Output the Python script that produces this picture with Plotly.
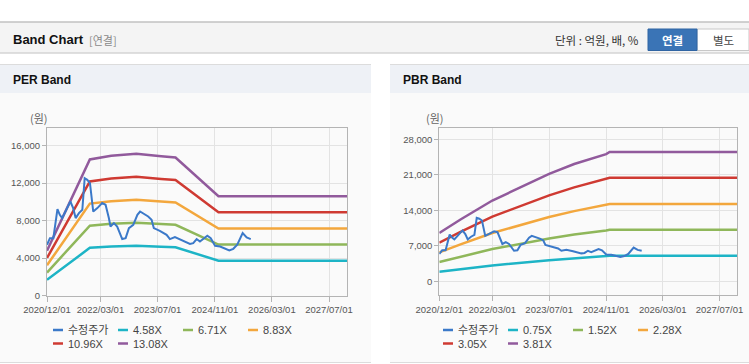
import plotly.graph_objects as go

W, H = 749, 364

# ---------------- data ----------------
price_dates = [
    "2020-12-01", "2020-12-26", "2021-01-24", "2021-02-28", "2021-03-20", "2021-04-09",
    "2021-06-18", "2021-07-12", "2021-08-02", "2021-08-30", "2021-09-28", "2021-10-18",
    "2021-11-09", "2021-12-02", "2021-12-30", "2022-02-03", "2022-03-16", "2022-04-14",
    "2022-05-12", "2022-05-26", "2022-06-24", "2022-07-22", "2022-09-03", "2022-10-02",
    "2022-10-30", "2022-12-06", "2023-01-10", "2023-02-02", "2023-04-12", "2023-05-11",
    "2023-05-30", "2023-07-20", "2023-09-16", "2023-10-14", "2023-11-26", "2024-01-22",
    "2024-04-02", "2024-04-30", "2024-05-29", "2024-06-26", "2024-07-24", "2024-08-28",
    "2024-09-26", "2024-11-02", "2024-12-15", "2025-01-18", "2025-03-03", "2025-04-06",
    "2025-05-10", "2025-06-25", "2025-07-29", "2025-09-02",
]
price_values = [
    5410, 6120, 6120, 9220, 8610, 8260,
    10030, 9320, 8260, 8790, 9140, 12520,
    12340, 11990, 8960, 9320, 9860, 9680,
    8260, 7360, 7720, 7360, 6020, 6120,
    7190, 7540, 8610, 8960, 8430, 8080,
    7190, 6900, 6470, 6020, 6230, 5940,
    5510, 5590, 6020, 5760, 6020, 6370,
    6120, 5300, 5230, 5060, 4800, 4980,
    5410, 6660, 6190, 6020,
]

# PER band: EPS, multiples from the legend
per_dates = ["2020-12-01", "2021-12-01", "2022-06-01", "2023-01-01", "2023-08-01",
             "2023-12-01", "2024-12-01", "2027-12-01"]
per_eps = [365, 1110, 1139, 1156, 1135, 1125, 810, 810]
per_multiples = [4.58, 6.71, 8.83, 10.96, 13.08]
per_labels = ["4.58X", "6.71X", "8.83X", "10.96X", "13.08X"]

# PBR band: BPS, multiples from the legend
pbr_dates = ["2020-12-01", "2021-06-01", "2022-03-01", "2023-07-01", "2024-02-01",
             "2024-11-01", "2024-12-01", "2027-12-01"]
pbr_bps = [2500, 3200, 4180, 5556, 6070, 6585, 6690, 6690]
pbr_multiples = [0.75, 1.52, 2.28, 3.05, 3.81]
pbr_labels = ["0.75X", "1.52X", "2.28X", "3.05X", "3.81X"]

price_label = "수정주가"

x_tick_vals = ["2020-12-01", "2022-03-01", "2023-07-01", "2024-11-01", "2026-03-01", "2027-07-01"]
x_tick_text = ["2020/12/01", "2022/03/01", "2023/07/01", "2024/11/01", "2026/03/01", "2027/07/01"]
per_y_ticks = [0, 4000, 8000, 12000, 16000]
pbr_y_ticks = [0, 7000, 14000, 21000, 28000]

# ---------------- styles ----------------
price_color = "#3b79c9"
band_colors = ["#1db4c6", "#8fb75a", "#f3a73d", "#cf3a32", "#915a9c"]
LAT = "Liberation Sans, Noto Sans CJK KR, sans-serif"
KR = "Noto Sans CJK KR, Liberation Sans, sans-serif"


def X(px):
    return px / W


def Y(py):
    return 1 - py / H


fig = go.Figure()

# PER traces
for m, c, lab in zip(per_multiples, band_colors, per_labels):
    fig.add_trace(go.Scatter(x=per_dates, y=[e * m for e in per_eps], mode="lines",
                             line=dict(color=c, width=2.5), xaxis="x", yaxis="y",
                             showlegend=False, name=lab))
fig.add_trace(go.Scatter(x=price_dates, y=price_values, mode="lines",
                         line=dict(color=price_color, width=2), xaxis="x", yaxis="y",
                         showlegend=False, name=price_label))

# PBR traces
for m, c, lab in zip(pbr_multiples, band_colors, pbr_labels):
    fig.add_trace(go.Scatter(x=pbr_dates, y=[b * m for b in pbr_bps], mode="lines",
                             line=dict(color=c, width=2.5), xaxis="x2", yaxis="y2",
                             showlegend=False, name=lab))
fig.add_trace(go.Scatter(x=price_dates, y=price_values, mode="lines",
                         line=dict(color=price_color, width=2), xaxis="x2", yaxis="y2",
                         showlegend=False, name=price_label))

axis_common = dict(showline=True, linecolor="#b4b4b4", linewidth=1, mirror=True,
                   showgrid=True, gridcolor="#e3e3e3", gridwidth=1, zeroline=False,
                   ticks="outside", ticklen=4, tickcolor="#b4b4b4", automargin=False,
                   tickfont=dict(family=LAT, size=9.5, color="#555"))

xcommon = dict(axis_common, type="date", range=["2020-12-01", "2027-12-01"],
               tickmode="array", tickvals=x_tick_vals, ticktext=x_tick_text, ticklen=5)

fig.update_layout(
    template="none",
    width=W, height=H, margin=dict(l=0, r=0, t=0, b=0, pad=0, autoexpand=False),
    paper_bgcolor="white", plot_bgcolor="rgba(0,0,0,0)",
    xaxis=dict(xcommon, domain=[X(47), X(347)], anchor="y"),
    yaxis=dict(axis_common, domain=[Y(295.5), Y(128)], range=[0, 17870],
               tickmode="array", tickvals=per_y_ticks, tickformat=",d", anchor="x"),
    xaxis2=dict(xcommon, domain=[X(439.3), X(737.3)], anchor="y2"),
    yaxis2=dict(axis_common, domain=[Y(295.3), Y(128.3)], range=[-2760, 30170],
                tickmode="array", tickvals=pbr_y_ticks, tickformat=",d", anchor="x2"),
    showlegend=False,
)

shapes = []
ann = []

# top header bar
shapes.append(dict(type="rect", xref="paper", yref="paper", x0=0, x1=1, y0=Y(53), y1=Y(22),
                   fillcolor="#f4f4f4", line=dict(width=0), layer="below"))
shapes.append(dict(type="line", xref="paper", yref="paper", x0=0, x1=1, y0=Y(22), y1=Y(22),
                   line=dict(color="#c2c2c2", width=1.5), layer="below"))
shapes.append(dict(type="line", xref="paper", yref="paper", x0=0, x1=1, y0=Y(53), y1=Y(53),
                   line=dict(color="#d4d4d4", width=1.5), layer="below"))
ann.append(dict(text="<b>Band Chart</b>", x=X(11), y=Y(39.5), xref="paper", yref="paper",
                xanchor="left", yanchor="middle", showarrow=False,
                font=dict(family=LAT, size=13, color="#111")))
ann.append(dict(text="[연결]", x=X(87), y=Y(39.5), xref="paper", yref="paper",
                xanchor="left", yanchor="middle", showarrow=False,
                font=dict(family=KR, size=11, color="#8a8a8a")))
ann.append(dict(text="단위 : 억원, 배, %", x=X(641), y=Y(39.5), xref="paper", yref="paper",
                xanchor="right", yanchor="middle", showarrow=False,
                font=dict(family=KR, size=11.5, color="#333")))
# buttons
shapes.append(dict(type="rect", xref="paper", yref="paper", x0=X(697), x1=X(749), y0=Y(50.5), y1=Y(29),
                   fillcolor="white", line=dict(color="#c8c8c8", width=1), layer="below"))
shapes.append(dict(type="rect", xref="paper", yref="paper", x0=X(648), x1=X(697), y0=Y(50.5), y1=Y(29),
                   fillcolor="#3a74b6", line=dict(color="#2f64a3", width=1), layer="below"))
ann.append(dict(text="<b>연결</b>", x=X(672.5), y=Y(40), xref="paper", yref="paper",
                xanchor="center", yanchor="middle", showarrow=False,
                font=dict(family=KR, size=11.5, color="white")))
ann.append(dict(text="별도", x=X(723), y=Y(40), xref="paper", yref="paper",
                xanchor="center", yanchor="middle", showarrow=False,
                font=dict(family=KR, size=11.5, color="#444")))

# panels
panels = [(0, 371, "PER Band", 11), (390, 749, "PBR Band", 401)]
for x0, x1, title, tx in panels:
    shapes.append(dict(type="rect", xref="paper", yref="paper", x0=X(x0), x1=X(x1), y0=Y(362.5), y1=Y(93),
                       fillcolor="#fafafa", line=dict(width=0), layer="below"))
    shapes.append(dict(type="rect", xref="paper", yref="paper", x0=X(x0), x1=X(x1), y0=Y(93), y1=Y(64.5),
                       fillcolor="#eef1f6", line=dict(width=0), layer="below"))
    shapes.append(dict(type="line", xref="paper", yref="paper", x0=X(x0), x1=X(x1), y0=Y(64.5), y1=Y(64.5),
                       line=dict(color="#dcdcdc", width=1), layer="below"))
    shapes.append(dict(type="line", xref="paper", yref="paper", x0=X(x0), x1=X(x1), y0=Y(362.5), y1=Y(362.5),
                       line=dict(color="#dcdcdc", width=1), layer="below"))
    ann.append(dict(text="<b>%s</b>" % title, x=X(tx), y=Y(80), xref="paper", yref="paper",
                    xanchor="left", yanchor="middle", showarrow=False,
                    font=dict(family=LAT, size=12, color="#111")))

# unit labels
for cx in (39, 435):
    ann.append(dict(text="(원)", x=X(cx), y=Y(118), xref="paper", yref="paper",
                    xanchor="center", yanchor="middle", showarrow=False,
                    font=dict(family=KR, size=11, color="#666")))

# custom legends
def add_legend(base_x, labels):
    names = [price_label] + labels
    colors = [price_color] + band_colors
    for i, (nm, col) in enumerate(zip(names, colors)):
        row, colidx = divmod(i, 4)
        sx = base_x + colidx * 65
        sy = 330 + row * 13.5
        shapes.append(dict(type="line", xref="paper", yref="paper", x0=X(sx), x1=X(sx + 10),
                           y0=Y(sy), y1=Y(sy), line=dict(color=col, width=2.5)))
        ann.append(dict(text=nm, x=X(sx + 12.5), y=Y(sy), xref="paper", yref="paper",
                        xanchor="left", yanchor="middle", showarrow=False,
                        font=dict(family=LAT, size=11, color="#444")))

add_legend(53, per_labels)
add_legend(443, pbr_labels)

fig.update_layout(shapes=shapes, annotations=ann)

fig.write_html(
    "out.html",
    config={"displayModeBar": False},
    post_script="document.body.style.margin='0px';document.body.style.padding='0px';"
                "document.body.style.overflow='hidden';",
)
